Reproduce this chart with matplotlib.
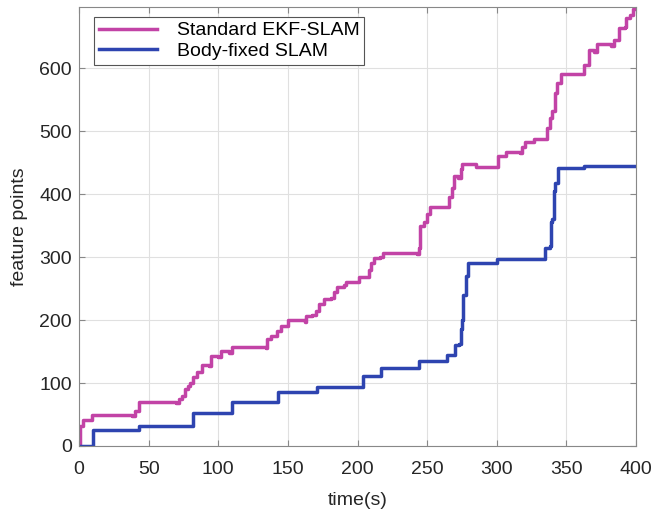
import matplotlib.pyplot as plt

# corner points (steps-post: value holds until next time)
t_ekf = [0, 1, 3, 9, 38, 40, 43, 70, 72, 74, 76, 78, 80, 82, 85, 88, 93, 95, 100, 102, 108, 110,
         134, 135, 138, 142, 145, 150, 162, 163, 167, 170, 172, 176, 181, 183, 185, 190, 192,
         200, 201, 206, 208, 210, 212, 216, 218, 243, 244, 245, 248, 250, 252, 264, 266, 268,
         269, 272, 274, 275, 285, 300, 301, 305, 307, 317, 318, 320, 325, 327, 335, 336, 338,
         340, 342, 343, 346, 362, 363, 366, 370, 372, 382, 384, 388, 392, 393, 396, 398, 400]
y_ekf = [0, 32, 42, 50, 47, 55, 70, 68, 75, 80, 90, 95, 100, 110, 118, 128, 127, 143, 142, 151, 148, 157,
         155, 170, 175, 182, 190, 200, 197, 207, 208, 215, 225, 233, 235, 245, 253, 255, 260,
         260, 268, 268, 280, 290, 298, 300, 306, 305, 315, 350, 355, 368, 380, 380, 395, 410,
         428, 425, 440, 447, 443, 443, 460, 460, 466, 465, 475, 483, 482, 488, 488, 505, 520,
         532, 560, 577, 590, 590, 605, 628, 625, 638, 635, 645, 663, 665, 680, 685, 694, 697]

t_body = [0, 10, 43, 82, 110, 143, 171, 204, 217, 244, 264, 270, 273, 274, 275, 276, 278, 279,
          300, 335, 338, 339, 340, 341, 342, 344, 363, 400]
y_body = [0, 25, 31, 52, 70, 85, 93, 111, 124, 135, 145, 160, 162, 185, 200, 240, 270, 291,
          297, 315, 317, 355, 360, 405, 418, 441, 444, 444]

plt.rcParams['font.family'] = ['Liberation Sans', 'DejaVu Sans']

fig = plt.figure(figsize=(6.51, 5.09), dpi=100)
ax = fig.add_axes([79 / 651, 63 / 509, 557 / 651, 439 / 509])

ax.plot(t_ekf, y_ekf, drawstyle='steps-post', color='#C243A6', lw=2.5, label='Standard EKF-SLAM')
ax.plot(t_body, y_body, drawstyle='steps-post', color='#2E44B0', lw=2.5, label='Body-fixed SLAM')

ax.set_xlim(0, 400)
ax.set_ylim(0, 697)
ax.set_xticks(range(0, 401, 50))
ax.set_yticks(range(0, 601, 100))
ax.grid(True, color='#e0e0e0', lw=0.8)
ax.tick_params(direction='in', top=True, right=True, labelsize=14, colors='#888888',
               labelcolor='#262626', length=4)
ax.tick_params(axis='x', pad=11)
ax.tick_params(axis='y', pad=5)
for s in ax.spines.values():
    s.set_color('#888888')
    s.set_linewidth(0.8)

ax.set_xlabel('time(s)', fontsize=14, color='#262626', labelpad=10)
ax.set_ylabel('feature points', fontsize=14, color='#262626', labelpad=8)

leg = ax.legend(loc='upper left', fontsize=14, fancybox=False, framealpha=1,
                edgecolor='#555555', handlelength=3.0, handletextpad=1.0,
                borderpad=0.25, labelspacing=0.15, borderaxespad=0.0,
                bbox_to_anchor=(15 / 557, 1 - 10 / 439))
leg.get_frame().set_linewidth(0.8)

fig.savefig('out.png', dpi=100)
